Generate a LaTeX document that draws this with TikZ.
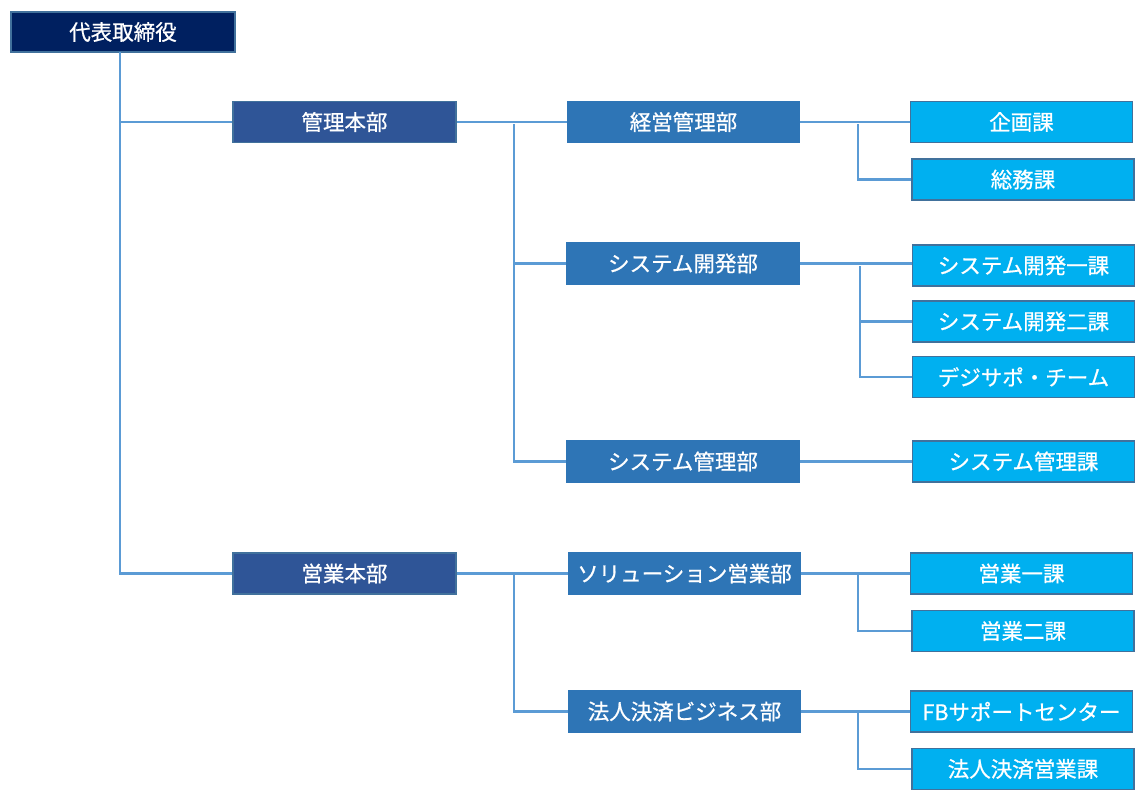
\documentclass[tikz,border=0pt]{standalone}
\usepackage{fontspec}
\newfontfamily\jp[FakeBold=0.7]{Noto Sans CJK JP}
\definecolor{navy}{HTML}{002060}
\definecolor{hqc}{HTML}{2F5597}
\definecolor{deptc}{HTML}{2E75B6}
\definecolor{sectc}{HTML}{00B0F0}
\definecolor{edgec}{HTML}{41719C}
\definecolor{connc}{HTML}{5B9BD5}
\begin{document}
\begin{tikzpicture}[x=1pt,y=-1pt,
  box/.style={draw=edgec, line width=1.6pt, text=white, inner sep=0pt,
    font=\jp\fontsize{21.5}{21.5}\selectfont, minimum height=41pt},
  ceobox/.style={box, fill=navy, minimum width=224pt, minimum height=40pt},
  hqbox/.style={box, fill=hqc, minimum width=223pt},
  deptbox/.style={box, fill=deptc, draw=deptc, minimum width=232pt},
  sectbox/.style={box, fill=sectc, minimum width=222pt},
  conn/.style={draw=connc, line width=2.6pt}]
\useasboundingbox (0,0) rectangle (1146,800);
% nodes
\node[ceobox] (ceo) at (123,32) {代表取締役};
\node[hqbox] (hq1) at (344.5,122) {管理本部};
\node[hqbox] (hq2) at (344.5,573.5) {営業本部};
\node[deptbox] (d1) at (683.5,122) {経営管理部};
\node[deptbox] (d2) at (683,263.5) {システム開発部};
\node[deptbox] (d3) at (683,461.5) {システム管理部};
\node[deptbox, minimum width=231pt] (d4) at (684.5,573.5) {ソリューション営業部};
\node[deptbox, minimum width=231pt] (d5) at (684.5,711.5) {法人決済ビジネス部};
\node[sectbox] (s1) at (1021.5,122) {企画課};
\node[sectbox] (s2) at (1023,179.5) {総務課};
\node[sectbox] (s3) at (1023.5,265.5) {システム開発一課};
\node[sectbox] (s4) at (1023.5,321.5) {システム開発二課};
\node[sectbox] (s5) at (1023.5,377) {デジサポ・チーム};
\node[sectbox] (s6) at (1023.5,461.5) {システム管理課};
\node[sectbox] (s7) at (1021.5,573.5) {営業一課};
\node[sectbox] (s8) at (1023,631) {営業二課};
\node[sectbox] (s9) at (1021.5,711.5) {FBサポートセンター};
\node[sectbox] (s10) at (1023,769) {法人決済営業課};
% branch coordinates
\coordinate (c0) at (120,52);
\coordinate (b1) at (514,124);
\coordinate (b2) at (514,575);
\coordinate (e1) at (858,124);
\coordinate (e2) at (860,266);
\coordinate (e4) at (858,575);
\coordinate (e5) at (858,712);
% connectors
\path[conn] (c0) |- (hq1.west);
\path[conn] (c0) |- (hq2.west);
\path[conn] (hq1.east) -- (d1.west);
\path[conn] (b1) |- (d2.west);
\path[conn] (b1) |- (d3.west);
\path[conn] (hq2.east) -- (d4.west);
\path[conn] (b2) |- (d5.west);
\path[conn] (d1.east) -- (s1.west);
\path[conn] (e1) |- (s2.west);
\path[conn] (d2.east) -- (d2.east -| s3.west);
\path[conn] (e2) |- (s4.west);
\path[conn] (e2) |- (s5.west);
\path[conn] (d3.east) -- (s6.west);
\path[conn] (d4.east) -- (s7.west);
\path[conn] (e4) |- (s8.west);
\path[conn] (d5.east) -- (s9.west);
\path[conn] (e5) |- (s10.west);
\end{tikzpicture}
\end{document}
